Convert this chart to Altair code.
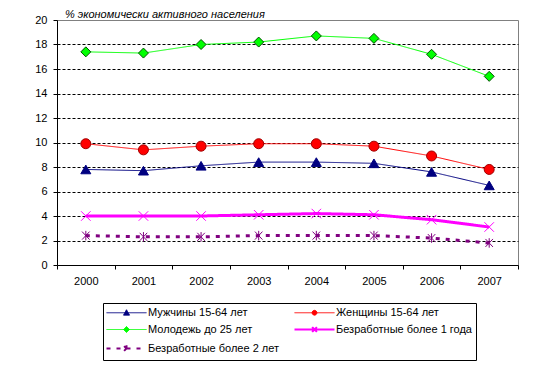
import altair as alt
import pandas as pd

years = ["2000", "2001", "2002", "2003", "2004", "2005", "2006", "2007"]
series = [
    "Мужчины 15-64 лет",
    "Женщины 15-64 лет",
    "Молодежь до 25 лет",
    "Безработные более 1 года",
    "Безработные более 2 лет",
]
men = [7.8, 7.7, 8.1, 8.4, 8.4, 8.3, 7.6, 6.5]
women = [9.9, 9.4, 9.7, 9.9, 9.9, 9.7, 8.9, 7.8]
youth = [17.4, 17.3, 18.0, 18.2, 18.7, 18.5, 17.2, 15.4]
unemp1 = [4.0, 4.0, 4.0, 4.1, 4.2, 4.1, 3.7, 3.1]
unemp2 = [2.4, 2.3, 2.3, 2.4, 2.4, 2.4, 2.2, 1.8]
y_ticks = [0, 2, 4, 6, 8, 10, 12, 14, 16, 18, 20]
title_text = "% экономически активного населения"

values = [men, women, youth, unemp1, unemp2]
rows = []
for s, vals in zip(series, values):
    for yr, v in zip(years, vals):
        rows.append({"year": yr, "series": s, "value": v})
df = pd.DataFrame(rows)

FONT = "Liberation Sans"
colors = ["#000080", "#FF0000", "#00FF00", "#FF00FF", "#800080"]
outline = ["#000080", "#A00000", "#005000", "#FF00FF", "#800080"]
line_widths = [1, 1, 1, 3, 3]
dashes = [[1, 0], [1, 0], [1, 0], [1, 0], [4, 6]]
chart_shapes = [
    "triangle-up",
    "circle",
    "diamond",
    "M-0.95,-0.95L0.95,0.95M-0.95,0.95L0.95,-0.95",
    "M-0.75,-0.8L0.75,0.8M-0.75,0.8L0.75,-0.8M0,-0.95L0,0.95",
]
legend_shapes = [
    "M-5,0L5,0M0,-0.75L0.75,0.6L-0.75,0.6Z",
    "M-5,0L5,0M0.6,0A0.6,0.6,0,1,1,-0.6,0A0.6,0.6,0,1,1,0.6,0Z",
    "M-5,0L5,0M0,-0.75L0.75,0L0,0.75L-0.75,0Z",
    "M-5,0L5,0M-0.6,-0.6L0.6,0.6M-0.6,0.6L0.6,-0.6",
    "M-5,0L5,0M-0.6,-0.6L0.6,0.6M-0.6,0.6L0.6,-0.6M0,-0.8L0,0.8",
]

x = alt.X(
    "year:O",
    title=None,
    scale=alt.Scale(type="band", domain=years, paddingInner=0, paddingOuter=0),
    axis=alt.Axis(
        tickBand="extent", labelAngle=0, tickSize=4, labelPadding=6,
        domainColor="black", tickColor="black", labelColor="black",
        labelFont=FONT, labelFontSize=11, grid=False,
    ),
)
y = alt.Y(
    "value:Q",
    title=None,
    scale=alt.Scale(domain=[0, 20], nice=False),
    axis=alt.Axis(
        values=y_ticks, tickSize=4, labelPadding=6, grid=True,
        gridColor="black", gridDash=[3, 2], gridWidth=1,
        gridOpacity={"condition": {"test": "datum.value >= 20 || datum.value <= 0", "value": 0}, "value": 1},
        domainColor="black", tickColor="black", labelColor="black",
        labelFont=FONT, labelFontSize=11, minExtent=30, maxExtent=30,
    ),
)

lines = alt.Chart(df).mark_line(interpolate="linear").encode(
    x=x, y=y,
    color=alt.Color("series:N", scale=alt.Scale(domain=series, range=colors), legend=None),
    strokeWidth=alt.StrokeWidth("series:N", scale=alt.Scale(type="ordinal", domain=series, range=line_widths), legend=None),
    strokeDash=alt.StrokeDash("series:N", scale=alt.Scale(domain=series, range=dashes), legend=None),
    detail="series:N",
)

points = alt.Chart(df).mark_point(filled=True, size=100, strokeWidth=1, opacity=1).encode(
    x=x, y=y,
    color=alt.Color("series:N", scale=alt.Scale(domain=series, range=colors), legend=None),
    stroke=alt.Stroke("series:N", scale=alt.Scale(domain=series, range=outline), legend=None),
    shape=alt.Shape("series:N", scale=alt.Scale(domain=series, range=chart_shapes), legend=None),
)

leg = alt.Legend(
    title=None, orient="none", legendX=46, legendY=283, columns=2,
    direction="horizontal",
    strokeColor="black", fillColor="white", padding=4, rowPadding=5,
    columnPadding=10, symbolSize=64, symbolOffset=14, labelOffset=16,
    labelFont=FONT, labelFontSize=11, labelColor="black", labelLimit=0,
)

legend_layer = alt.Chart(df).mark_point(filled=True, size=64, opacity=1).encode(
    x=x, y=y,
    color=alt.Color("series:N", scale=alt.Scale(domain=series, range=colors), legend=leg),
    stroke=alt.Stroke("series:N", scale=alt.Scale(domain=series, range=colors), legend=leg),
    shape=alt.Shape("series:N", scale=alt.Scale(domain=series, range=legend_shapes), legend=leg),
    strokeWidth=alt.StrokeWidth("series:N", scale=alt.Scale(type="ordinal", domain=series, range=[1, 1, 1, 2, 2]), legend=leg),
    strokeDash=alt.StrokeDash("series:N", scale=alt.Scale(domain=series, range=dashes), legend=leg),
).transform_filter("false")

chart = alt.layer(lines, points, legend_layer).resolve_scale(
    color="independent", stroke="independent", shape="independent",
    strokeWidth="independent", strokeDash="independent",
).properties(
    width=461,
    height=245,
    padding={"left": 19, "top": 0, "right": 5, "bottom": 0},
    title=alt.Title(
        title_text, anchor="start", frame="group", fontSize=11, fontStyle="italic",
        fontWeight="normal", font=FONT, dx=8, offset=-5.5, color="black",
    ),
).configure_view(stroke="#808080", strokeWidth=1)

chart.save("out.html", embed_options={"renderer": "svg", "actions": False})
